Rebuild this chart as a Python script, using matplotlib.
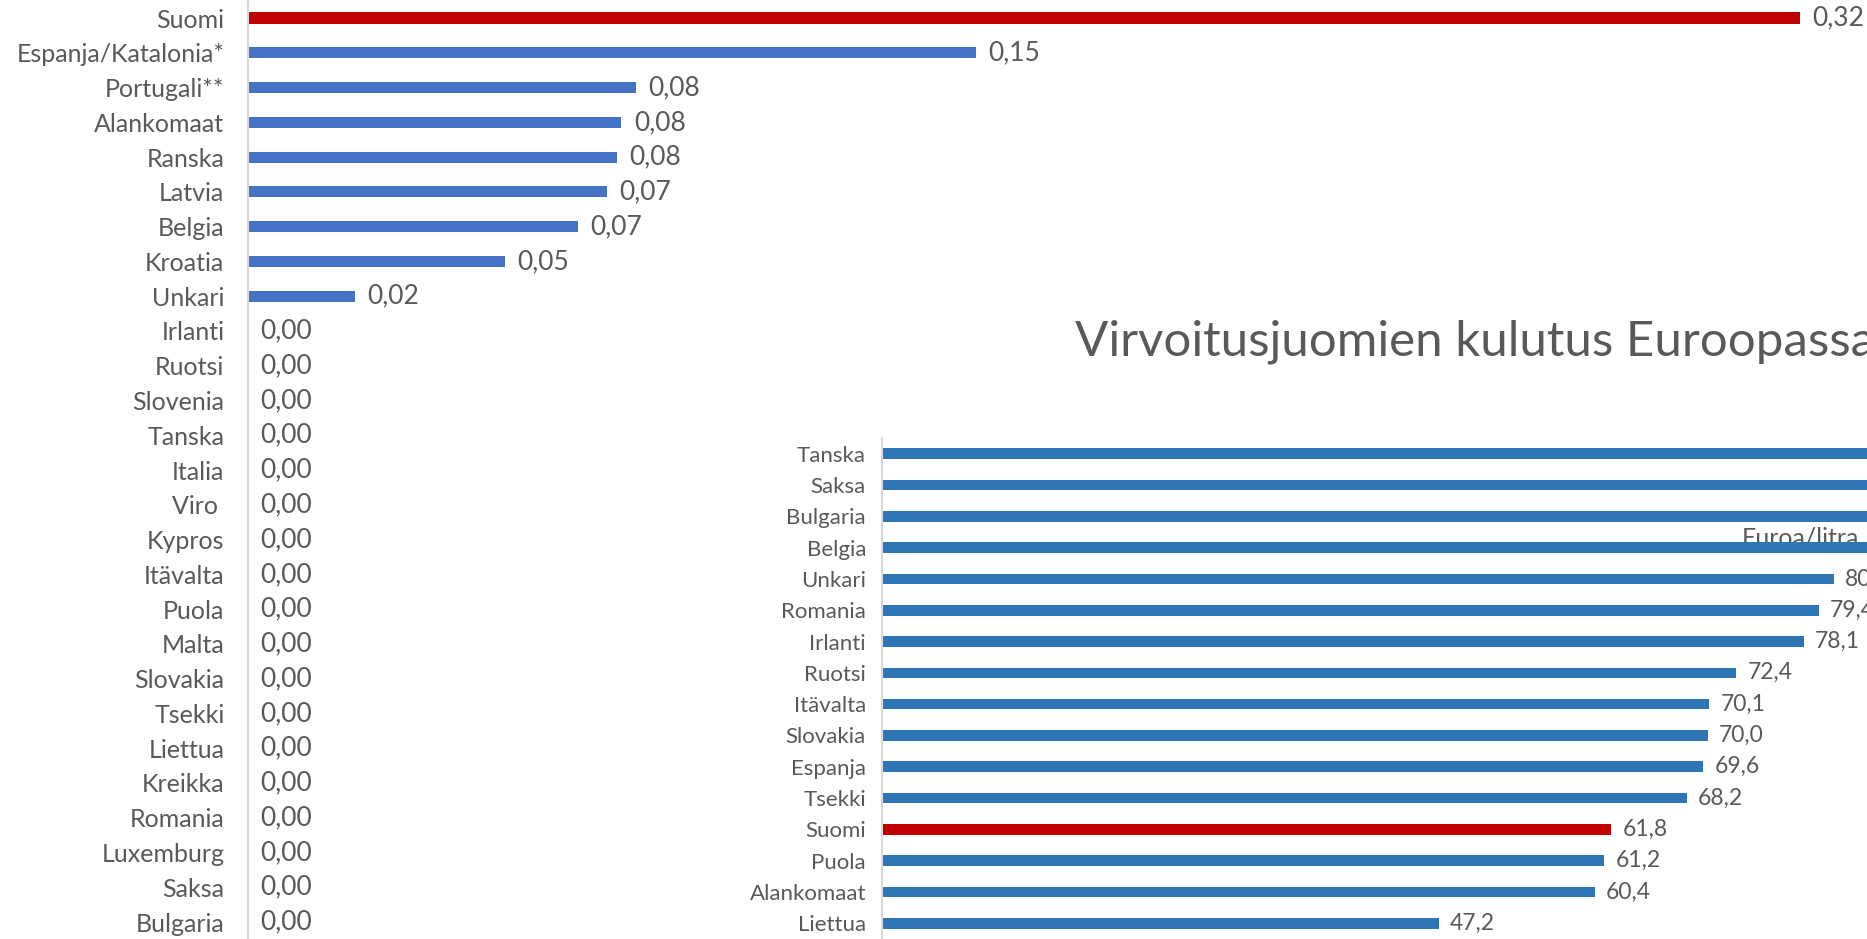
import matplotlib.pyplot as plt

plt.rcParams["font.family"] = ["Lato", "DejaVu Sans"]

TEXT = "#595959"
AXIS = "#d9d9d9"
RED = "#c00000"
BLUE_TAX = "#4472c4"
BLUE_USE = "#2e75b6"

# upper chart: soft drink tax, euroa/litra
tax_countries = [
    "Suomi", "Espanja/Katalonia*", "Portugali**", "Alankomaat", "Ranska",
    "Latvia", "Belgia", "Kroatia", "Unkari", "Irlanti", "Ruotsi", "Slovenia",
    "Tanska", "Italia", "Viro ", "Kypros", "Itävalta", "Puola", "Malta",
    "Slovakia", "Tsekki", "Liettua", "Kreikka", "Romania", "Luxemburg",
    "Saksa", "Bulgaria",
]
tax_values = [
    0.320, 0.150, 0.080, 0.077, 0.076, 0.074, 0.068, 0.053, 0.022,
    0, 0, 0, 0, 0, 0, 0, 0, 0, 0, 0, 0, 0, 0, 0, 0, 0, 0,
]

# lower chart: soft drink consumption
use_countries = [
    "Tanska", "Saksa", "Bulgaria", "Belgia", "Unkari", "Romania", "Irlanti",
    "Ruotsi", "Itävalta", "Slovakia", "Espanja", "Tsekki", "Suomi", "Puola",
    "Alankomaat", "Liettua",
]
use_values = [
    101.0, 97.0, 92.0, 87.5, 80.7, 79.4, 78.1, 72.4, 70.1, 70.0, 69.6, 68.2,
    61.8, 61.2, 60.4, 47.2,
]

W, H = 1867, 939
fig = plt.figure(figsize=(W / 100, H / 100), dpi=100)


def style(ax, size, pad):
    for side in ("top", "right", "bottom"):
        ax.spines[side].set_visible(False)
    ax.spines["left"].set_color(AXIS)
    ax.spines["left"].set_linewidth(1.5)
    ax.set_xticks([])
    ax.tick_params(axis="y", length=0, pad=pad, labelsize=size, labelcolor=TEXT)


# upper chart fills the whole picture
ax1 = fig.add_axes([248 / W, 0, (W - 248) / W, 1])
ax1.patch.set_visible(False)
colors1 = [RED if c == "Suomi" else BLUE_TAX for c in tax_countries]
ax1.barh(range(len(tax_countries)), tax_values, height=0.32, color=colors1)
ax1.set_yticks(range(len(tax_countries)), tax_countries)
ax1.set_xlim(0, (W - 248) / 4850)
ax1.set_ylim(-0.518 + H / 34.77, -0.518)
style(ax1, 18, 17)
for i, v in enumerate(tax_values):
    ax1.annotate(f"{v:.2f}".replace(".", ","), (v, i), xytext=(9, 0),
                 textcoords="offset points", va="center", ha="left",
                 fontsize=19, color=TEXT, annotation_clip=False)
# axis title of the upper chart, partly hidden under the lower chart
ax1.text(1800 / W, 1 - 546 / H, "Euroa/litra", transform=fig.transFigure,
         ha="center", va="baseline", fontsize=18, color=TEXT, clip_on=False)

# lower chart pasted on top, transparent background
ax2 = fig.add_axes([882 / W, 0, (W - 882) / W, (H - 438) / H])
ax2.patch.set_visible(False)
colors2 = [RED if c == "Suomi" else BLUE_USE for c in use_countries]
ax2.barh(range(len(use_countries)), use_values, height=0.34, color=colors2)
ax2.set_yticks(range(len(use_countries)), use_countries)
ax2.set_xlim(0, (W - 882) / 11.8)
ax2.set_ylim(len(use_countries) - 0.5, -0.5)
style(ax2, 16, 11.5)
for i, v in enumerate(use_values):
    ax2.annotate(f"{v:.1f}".replace(".", ","), (v, i), xytext=(8, 0),
                 textcoords="offset points", va="center", ha="left",
                 fontsize=16.5, color=TEXT, annotation_clip=False)

fig.text(1075 / W, 1 - 355 / H, "Virvoitusjuomien kulutus Euroopassa",
         ha="left", va="baseline", fontsize=35.5, color=TEXT)

fig.savefig("out.png", dpi=100)
